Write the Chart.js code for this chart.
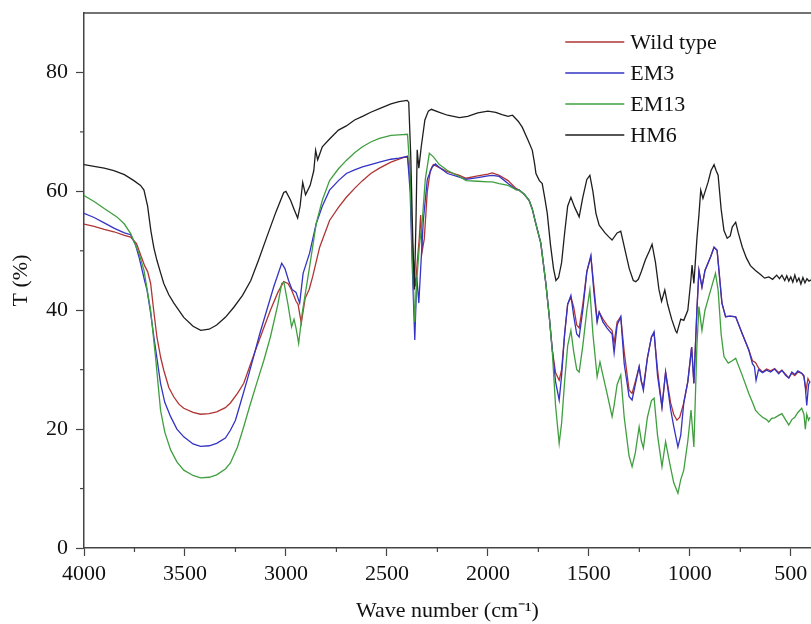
<!DOCTYPE html>
<html>
<head>
<meta charset="utf-8">
<script src="https://cdn.jsdelivr.net/npm/chart.js@4.4.1/dist/chart.umd.min.js"></script>
<style>
  html, body { margin: 0; padding: 0; background: #fff; overflow: hidden; }
  #wrap { width: 811px; height: 624px; position: relative; }
</style>
</head>
<body>
<div id="wrap"><canvas id="ftir"></canvas></div>
<script>
// FTIR spectra: [wave number (cm-1), T (%)]
const seriesNames = ["Wild type", "EM3", "EM13", "HM6"];
const xTickValues = [4000, 3500, 3000, 2500, 2000, 1500, 1000, 500];
const yTickValues = [0, 20, 40, 60, 80];

const wildType = [[4000,54.5],[3950,54.1],[3900,53.6],[3852,53.2],[3800,52.6],[3769,52.3],[3740,51.2],[3728,50.1],[3700,47.5],[3685,46.5],[3670,44.5],[3655,40.0],[3639,35.5],[3620,32.0],[3605,29.9],[3580,27.0],[3555,25.4],[3530,24.2],[3506,23.5],[3460,22.8],[3423,22.5],[3380,22.6],[3343,22.9],[3300,23.6],[3275,24.4],[3240,26.0],[3209,27.7],[3180,30.5],[3145,33.8],[3110,37.0],[3077,40.0],[3040,43.0],[3011,44.8],[2990,44.5],[2972,43.4],[2950,41.5],[2940,41.0],[2924,37.8],[2905,42.0],[2885,43.5],[2868,45.6],[2833,50.6],[2784,55.1],[2740,57.3],[2701,59.0],[2660,60.5],[2621,61.8],[2580,63.0],[2537,63.9],[2480,64.9],[2440,65.4],[2398,65.9],[2385,62.0],[2375,52.0],[2365,46.0],[2358,44.0],[2350,48.0],[2340,52.0],[2333,56.0],[2325,50.0],[2315,52.0],[2300,60.0],[2285,63.5],[2270,64.5],[2240,64.0],[2200,63.3],[2141,62.7],[2108,62.2],[2050,62.6],[2000,62.9],[1978,63.1],[1944,62.7],[1900,61.8],[1861,60.5],[1845,60.2],[1820,59.5],[1796,58.5],[1780,57.0],[1763,54.6],[1738,51.3],[1713,44.5],[1696,38.9],[1681,33.3],[1665,29.5],[1647,28.2],[1635,30.0],[1620,36.0],[1605,41.0],[1589,42.2],[1575,40.5],[1560,37.5],[1548,37.0],[1530,41.0],[1510,46.5],[1490,49.0],[1475,44.0],[1459,38.3],[1449,39.7],[1430,38.5],[1410,37.5],[1385,36.6],[1375,34.5],[1360,38.0],[1342,38.9],[1325,33.0],[1301,26.6],[1286,26.0],[1270,28.0],[1251,30.5],[1240,28.0],[1230,27.1],[1210,32.0],[1190,35.5],[1177,36.1],[1160,30.0],[1138,23.7],[1120,29.6],[1095,24.4],[1080,22.5],[1064,21.5],[1050,22.0],[1030,24.4],[1010,28.0],[991,33.8],[980,27.7],[965,40.0],[955,46.7],[940,43.9],[925,46.7],[897,49.0],[880,50.6],[865,50.1],[841,41.2],[823,38.9],[800,39.0],[773,38.9],[740,36.0],[708,33.3],[690,31.5],[675,31.2],[660,30.3],[640,29.6],[620,30.1],[600,29.8],[580,30.2],[560,29.5],[544,29.9],[525,29.2],[510,28.6],[495,29.4],[480,29.0],[465,29.6],[446,29.4],[435,28.8],[425,26.5],[415,28.5],[405,27.8]];

const em3 = [[4000,56.3],[3950,55.6],[3900,54.7],[3852,53.8],[3800,53.0],[3769,52.7],[3745,51.0],[3728,49.0],[3700,45.0],[3688,43.4],[3670,39.5],[3654,35.5],[3621,27.7],[3600,24.5],[3571,22.1],[3540,20.0],[3506,18.7],[3460,17.5],[3423,17.1],[3380,17.2],[3343,17.6],[3300,18.5],[3275,19.8],[3250,21.5],[3225,24.4],[3190,28.5],[3160,32.2],[3130,36.0],[3095,40.0],[3060,44.0],[3021,47.9],[3005,47.0],[2987,45.0],[2970,43.5],[2950,43.0],[2932,41.2],[2915,46.2],[2883,49.6],[2850,54.6],[2820,57.5],[2784,60.2],[2740,61.8],[2701,63.0],[2660,63.6],[2621,64.1],[2580,64.5],[2537,64.9],[2480,65.4],[2440,65.6],[2398,65.9],[2385,60.0],[2375,48.0],[2362,35.0],[2352,45.6],[2342,41.2],[2320,55.0],[2300,62.0],[2276,64.1],[2260,64.6],[2240,64.0],[2200,63.0],[2141,62.4],[2108,62.0],[2050,62.3],[2000,62.6],[1978,62.7],[1944,62.5],[1900,61.3],[1861,60.3],[1845,60.2],[1820,59.5],[1796,58.5],[1780,57.0],[1763,54.6],[1738,51.3],[1713,44.5],[1696,38.9],[1681,33.3],[1665,28.0],[1647,24.9],[1635,29.0],[1620,36.0],[1605,41.0],[1589,42.5],[1575,39.0],[1560,36.0],[1548,35.5],[1530,40.0],[1510,46.5],[1490,49.2],[1475,43.0],[1459,38.0],[1449,39.7],[1430,38.0],[1410,37.0],[1385,36.0],[1375,32.8],[1360,37.5],[1342,38.9],[1325,31.0],[1301,25.5],[1286,24.9],[1270,27.5],[1251,30.5],[1240,28.0],[1230,26.5],[1210,32.0],[1190,35.5],[1177,36.4],[1160,29.0],[1138,23.7],[1120,29.6],[1095,23.3],[1080,20.5],[1059,17.0],[1045,19.0],[1030,24.4],[1010,28.0],[991,33.8],[980,27.7],[965,40.0],[955,46.7],[940,43.9],[925,46.7],[897,49.0],[880,50.6],[865,50.1],[841,41.2],[823,38.9],[800,39.0],[773,38.9],[740,36.0],[708,33.3],[690,31.0],[680,30.5],[672,28.2],[660,30.0],[640,29.5],[620,29.9],[600,29.6],[580,30.1],[560,29.3],[544,29.9],[525,29.0],[510,28.6],[495,29.6],[480,29.2],[465,29.8],[446,29.4],[435,29.0],[428,27.0],[421,24.0],[412,27.5],[405,28.0]];

const em13 = [[4000,59.3],[3950,58.3],[3900,57.1],[3837,55.7],[3800,54.5],[3769,52.9],[3728,49.6],[3703,46.7],[3685,43.0],[3670,40.0],[3646,32.2],[3621,23.2],[3600,19.5],[3571,16.5],[3540,14.5],[3506,13.1],[3460,12.2],[3423,11.8],[3380,11.9],[3343,12.3],[3300,13.3],[3275,14.3],[3240,17.0],[3209,20.4],[3180,23.8],[3145,27.7],[3110,31.5],[3077,35.5],[3040,41.0],[3021,44.5],[3010,44.7],[2990,41.0],[2972,37.2],[2960,38.5],[2950,37.0],[2937,34.4],[2920,39.4],[2883,47.3],[2850,54.6],[2820,58.5],[2784,61.8],[2740,63.8],[2701,65.2],[2660,66.5],[2621,67.5],[2580,68.3],[2537,68.9],[2480,69.4],[2440,69.5],[2398,69.6],[2385,63.0],[2375,50.0],[2362,38.0],[2352,45.0],[2340,50.6],[2325,55.0],[2310,62.0],[2290,66.4],[2270,65.8],[2240,64.5],[2200,63.5],[2141,62.5],[2108,61.8],[2050,61.7],[2000,61.6],[1978,61.6],[1944,61.3],[1900,61.0],[1861,60.3],[1845,60.2],[1820,59.5],[1796,58.5],[1780,57.0],[1763,54.6],[1738,51.3],[1713,44.5],[1696,38.9],[1681,33.0],[1665,24.0],[1647,17.6],[1635,21.0],[1620,28.0],[1605,34.0],[1589,36.6],[1575,33.0],[1560,30.0],[1548,29.6],[1530,34.0],[1510,40.0],[1495,43.4],[1480,36.0],[1459,28.8],[1445,31.3],[1430,29.0],[1410,26.0],[1385,22.1],[1375,24.0],[1360,27.5],[1342,29.1],[1325,22.0],[1301,15.5],[1286,13.7],[1270,16.0],[1251,20.4],[1240,18.0],[1230,16.8],[1210,22.0],[1190,24.8],[1177,25.2],[1160,19.0],[1138,13.7],[1120,17.9],[1100,14.3],[1080,11.0],[1059,9.2],[1045,11.5],[1030,13.1],[1010,18.0],[994,23.2],[980,17.0],[965,34.0],[955,40.6],[940,36.6],[925,40.0],[900,43.0],[873,46.2],[860,43.4],[845,36.0],[831,32.2],[810,31.1],[790,31.5],[773,31.9],[740,29.0],[708,26.0],[690,24.5],[675,23.2],[660,22.6],[640,22.0],[620,21.6],[609,21.2],[595,21.8],[580,21.9],[560,22.3],[544,22.6],[525,21.5],[510,20.7],[495,21.6],[480,22.0],[465,22.8],[446,23.5],[435,22.5],[428,20.0],[421,22.5],[412,21.5],[405,22.0]];

const hm6 = [[4000,64.5],[3950,64.2],[3900,63.9],[3852,63.5],[3800,62.8],[3753,61.8],[3720,61.0],[3703,60.2],[3685,57.5],[3669,53.4],[3654,50.5],[3639,48.4],[3620,46.2],[3605,44.5],[3580,42.6],[3555,41.2],[3506,38.8],[3460,37.3],[3422,36.6],[3380,36.8],[3343,37.5],[3300,38.8],[3258,40.5],[3215,42.5],[3174,45.0],[3135,48.5],[3095,52.3],[3050,56.5],[3011,59.8],[3000,60.0],[2977,58.5],[2960,57.0],[2942,55.5],[2930,57.5],[2917,61.5],[2903,59.4],[2880,61.0],[2862,63.5],[2853,66.9],[2843,65.3],[2820,67.5],[2784,68.8],[2740,70.3],[2701,71.0],[2660,72.0],[2621,72.6],[2580,73.3],[2537,73.9],[2480,74.7],[2440,75.1],[2400,75.3],[2392,75.0],[2382,66.0],[2372,52.0],[2364,43.5],[2356,55.0],[2350,67.0],[2342,63.9],[2330,67.5],[2312,72.0],[2295,73.5],[2280,73.8],[2240,73.3],[2200,72.8],[2141,72.4],[2100,72.6],[2050,73.2],[2000,73.5],[1961,73.3],[1930,72.9],[1900,72.6],[1878,72.8],[1850,71.8],[1830,70.8],[1800,68.5],[1780,66.9],[1768,64.5],[1762,63.0],[1745,61.8],[1731,61.3],[1718,58.8],[1706,56.3],[1690,51.0],[1675,47.0],[1663,45.0],[1650,45.5],[1635,48.0],[1620,53.0],[1605,57.5],[1589,59.0],[1570,57.3],[1548,55.7],[1530,59.0],[1510,62.0],[1495,62.7],[1480,60.0],[1465,56.3],[1449,54.3],[1420,53.0],[1400,52.3],[1385,51.8],[1360,53.0],[1342,53.3],[1320,50.0],[1300,47.0],[1280,45.0],[1268,44.8],[1255,45.2],[1240,46.5],[1220,48.5],[1200,50.0],[1187,51.1],[1170,48.0],[1153,43.5],[1140,41.5],[1124,43.4],[1110,41.0],[1090,38.5],[1070,36.5],[1064,36.2],[1045,38.5],[1030,38.3],[1010,40.0],[995,45.0],[989,47.6],[980,44.5],[965,52.0],[955,56.0],[946,60.2],[935,58.8],[925,59.9],[910,61.5],[895,63.5],[880,64.5],[870,63.5],[860,62.7],[845,57.0],[831,53.4],[815,52.1],[800,52.5],[790,54.0],[773,54.8],[760,53.0],[740,50.6],[720,48.8],[700,47.5],[675,46.7],[650,46.0],[630,45.4],[609,45.6],[590,45.2],[570,45.9],[556,45.3],[544,45.9],[530,45.0],[520,45.8],[510,44.9],[500,45.6],[490,44.7],[480,45.9],[470,44.8],[460,45.4],[450,44.4],[440,45.5],[430,44.6],[420,45.3],[410,44.9],[400,45.1]];

const seriesData = [wildType, em3, em13, hm6];
const seriesColors = ["#b03434", "#3333c4", "#3f9f3f", "#1e1e1e"];

const serif = "'Liberation Serif', 'Times New Roman', serif";

// frame top line, minor ticks and the in-plot legend
const okvirPlugin = {
    id: 'okvir',
    afterDraw(chart) {
        const ctx = chart.ctx;
        const a = chart.chartArea;
        const x = chart.scales.x;
        const y = chart.scales.y;
        ctx.save();
        ctx.strokeStyle = '#444';
        ctx.lineWidth = 1.5;
        ctx.beginPath();
        ctx.moveTo(a.left, a.top);
        ctx.lineTo(a.right + 2, a.top);
        ctx.stroke();

        ctx.lineWidth = 1.2;
        for (let i = 1; i < x.ticks.length; i++) {
            let px = x.getPixelForValue((x.ticks[i - 1].value + x.ticks[i].value) / 2);
            ctx.beginPath();
            ctx.moveTo(px, a.bottom);
            ctx.lineTo(px, a.bottom + 4);
            ctx.stroke();
        }
        for (let i = 1; i < y.ticks.length; i++) {
            let py = y.getPixelForValue((y.ticks[i - 1].value + y.ticks[i].value) / 2);
            ctx.beginPath();
            ctx.moveTo(a.left, py);
            ctx.lineTo(a.left - 4, py);
            ctx.stroke();
        }

        // legend
        let lx = a.left + a.width * 0.662;
        let ly = a.top + 29;
        ctx.font = "22px " + serif;
        ctx.textBaseline = 'middle';
        ctx.fillStyle = '#111';
        chart.data.datasets.forEach((ds, i) => {
            let yy = ly + i * 31;
            ctx.strokeStyle = ds.borderColor;
            ctx.lineWidth = 1.3;
            ctx.beginPath();
            ctx.moveTo(lx, yy);
            ctx.lineTo(lx + 59, yy);
            ctx.stroke();
            ctx.fillText(ds.label, lx + 65, yy + 1);
        });
        ctx.restore();
    }
};

const datasets = seriesNames.map((name, i) => ({
    label: name,
    data: seriesData[i].map(p => ({ x: p[0], y: p[1] })),
    borderColor: seriesColors[i],
    borderWidth: 1.3,
    pointRadius: 0,
    tension: 0,
    fill: false,
    order: seriesNames.length - i
}));

new Chart(document.getElementById('ftir'), {
    type: 'line',
    data: { datasets: datasets },
    options: {
        responsive: true,
        maintainAspectRatio: false,
        animation: false,
        parsing: false,
        layout: { padding: { top: 13, right: 0, left: 0, bottom: 0 } },
        plugins: {
            legend: { display: false },
            tooltip: { enabled: false }
        },
        scales: {
            x: {
                type: 'linear',
                reverse: true,
                min: 400,
                max: 4000,
                afterBuildTicks: s => { s.ticks = xTickValues.map(v => ({ value: v })); },
                afterFit: s => { s.height = 76; s.paddingLeft = 0; s.paddingRight = 0; },
                ticks: {
                    maxRotation: 0,
                    autoSkip: false,
                    padding: 5,
                    color: '#111',
                    font: { family: serif, size: 22 },
                    callback: v => String(v)
                },
                grid: { drawOnChartArea: false, tickLength: 8, tickColor: '#444', tickWidth: 1.2 },
                border: { display: true, color: '#444', width: 1.5 },
                title: {
                    display: true,
                    text: 'Wave number (cm\u207B\u00B9)',
                    color: '#111',
                    font: { family: serif, size: 22 },
                    padding: { top: 0, bottom: 0 }
                }
            },
            y: {
                min: 0,
                max: 90,
                afterBuildTicks: s => { s.ticks = yTickValues.map(v => ({ value: v })); },
                afterFit: s => { s.width = 84; s.paddingTop = 0; s.paddingBottom = 0; },
                ticks: {
                    padding: 8,
                    color: '#111',
                    font: { family: serif, size: 22 },
                    callback: v => String(v)
                },
                grid: { drawOnChartArea: false, tickLength: 8, tickColor: '#444', tickWidth: 1.2 },
                border: { display: true, color: '#444', width: 1.5 },
                title: {
                    display: true,
                    text: 'T (%)',
                    color: '#111',
                    font: { family: serif, size: 22 },
                    padding: { top: 8, bottom: 0 }
                }
            }
        }
    },
    plugins: [okvirPlugin]
});
</script>
</body>
</html>
